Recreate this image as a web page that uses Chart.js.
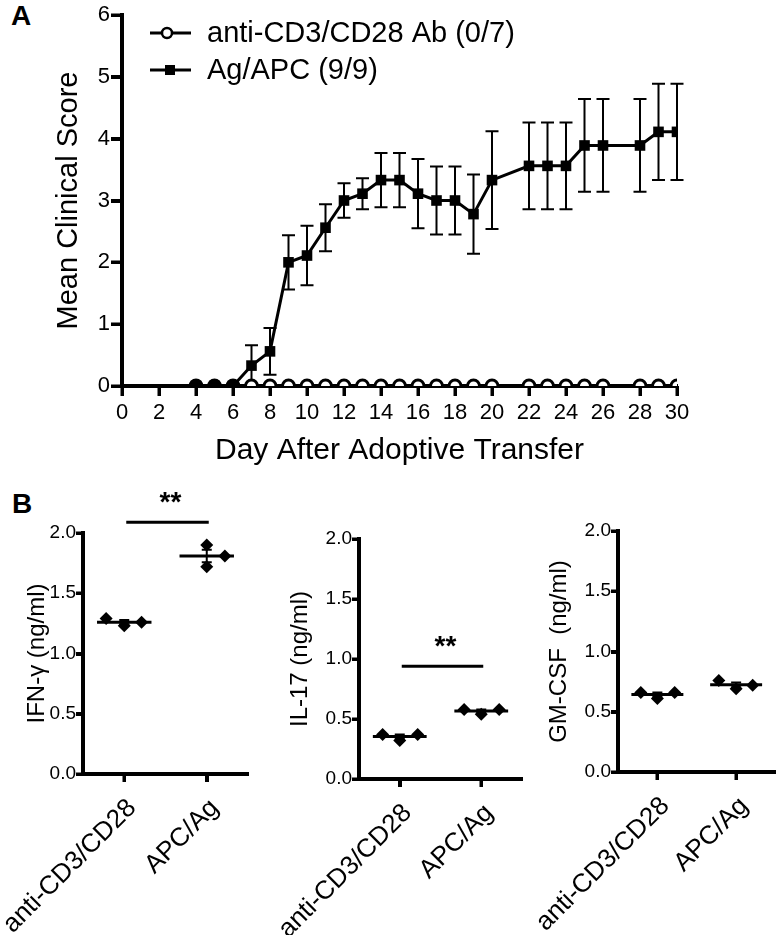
<!DOCTYPE html>
<html>
<head>
<meta charset="utf-8">
<script src="https://cdn.jsdelivr.net/npm/chart.js@4"></script>
<style>
  body { margin: 0; background: #fff; width: 782px; height: 935px; position: relative; overflow: hidden;
         font-family: "Liberation Sans", Arial, sans-serif; }
  .box { position: absolute; }
  .tag { position: absolute; font-weight: bold; font-size: 28px; line-height: 1; color: #000; }
  .tk { position: absolute; background: #000; pointer-events: none; z-index: 3; }
</style>
</head>
<body>
<div class="tag" style="left:11px;top:2px">A</div>
<div class="tag" style="left:12px;top:490px">B</div>
<div class="box" style="left:0;top:0;width:782px;height:470px"><canvas id="scoreChart"></canvas></div>
<div class="box" style="left:0;top:470px;width:260px;height:465px"><canvas id="ifnChart"></canvas></div>
<div class="box" style="left:270px;top:470px;width:260px;height:465px"><canvas id="il17Chart"></canvas></div>
<div class="box" style="left:530px;top:470px;width:252px;height:465px"><canvas id="gmChart"></canvas></div>
<script>
// Panel A: clinical score after adoptive transfer
const days = [4, 5, 6, 7, 8, 9, 10, 11, 12, 13, 14, 15, 16, 17, 18, 19, 20, 22, 23, 24, 25, 26, 28, 29, 30];
const agApcScore = [0, 0, 0, 0.33, 0.56, 2.00, 2.11, 2.56, 3.00, 3.11, 3.33, 3.33, 3.11, 3.00, 3.00, 2.78, 3.33,
  3.56, 3.56, 3.56, 3.89, 3.89, 3.89, 4.11, 4.11];
const agApcSem = [0, 0, 0, 0.33, 0.38, 0.44, 0.48, 0.38, 0.28, 0.25, 0.44, 0.44, 0.56, 0.55, 0.55, 0.64, 0.79,
  0.70, 0.70, 0.70, 0.75, 0.75, 0.75, 0.78, 0.78];
const antiCd3Score = [0, 0, 0, 0, 0, 0, 0, 0, 0, 0, 0, 0, 0, 0, 0, 0, 0, 0, 0, 0, 0, 0, 0, 0, 0];

// Panel B: cytokines (ng/ml), three mice per group
const groups = ["anti-CD3/CD28", "APC/Ag"];
const ifnAnti = [1.29, 1.23, 1.26];
const ifnApc = [1.90, 1.72, 1.81];
const il17Anti = [0.37, 0.32, 0.37];
const il17Apc = [0.58, 0.54, 0.58];
const gmAnti = [0.66, 0.61, 0.66];
const gmApc = [0.76, 0.69, 0.72];

const FONT = '"Liberation Sans", Arial, sans-serif';
Chart.defaults.font.family = FONT;
Chart.defaults.color = "#000";
Chart.defaults.animation = false;

// outward tick marks, placed from the chart's own scales
function tickSpots(chart) {
  const area = chart.chartArea;
  const xs = chart.scales.x, ys = chart.scales.y;
  return {
    area,
    xPix: xs.ticks.map(t => xs.getPixelForValue(t.value)),
    yPix: ys.ticks.map(t => ys.getPixelForValue(t.value))
  };
}

function makeTickMarks(xLen, yLen) {
  return {
    id: "tickMarks",
    afterDraw(chart) {
      const { area, xPix, yPix } = tickSpots(chart);
      const ctx = chart.ctx;
      ctx.save();
      ctx.fillStyle = "#000";
      xPix.forEach(px => ctx.fillRect(Math.round(px) - 1.5, area.bottom, 3, xLen));
      yPix.forEach(py => ctx.fillRect(area.left - yLen, Math.round(py) - 1.5, yLen, 3));
      ctx.restore();
    },
    afterRender(chart) {
      try {
        const host = chart.canvas.parentNode;
        host.querySelectorAll(".tk").forEach(el => el.remove());
        const { area, xPix, yPix } = tickSpots(chart);
        const add = (l, t, w, h) => {
          const el = document.createElement("div");
          el.className = "tk";
          el.style.left = l + "px"; el.style.top = t + "px";
          el.style.width = w + "px"; el.style.height = h + "px";
          host.appendChild(el);
        };
        xPix.forEach(px => add(Math.round(px) - 1.5, area.bottom, 3, xLen));
        yPix.forEach(py => add(area.left - yLen, Math.round(py) - 1.5, yLen, 3));
      } catch (e) { /* marks are also painted on the canvas */ }
    }
  };
}

const errorBars = {
  id: "errorBars",
  beforeDatasetsDraw(chart) {
    const { ctx, scales: { x, y } } = chart;
    ctx.save();
    ctx.strokeStyle = "#000";
    ctx.lineWidth = 2;
    days.forEach((d, i) => {
      const s = agApcSem[i];
      if (!s) return;
      const px = x.getPixelForValue(d);
      const top = y.getPixelForValue(agApcScore[i] + s);
      const bot = y.getPixelForValue(Math.max(agApcScore[i] - s, 0));
      ctx.beginPath();
      ctx.moveTo(px, top); ctx.lineTo(px, bot);
      ctx.moveTo(px - 6.5, top); ctx.lineTo(px + 6.5, top);
      ctx.moveTo(px - 6.5, bot); ctx.lineTo(px + 6.5, bot);
      ctx.stroke();
    });
    ctx.restore();
  }
};

const lineLegend = {
  id: "lineLegend",
  afterDraw(chart) {
    const ctx = chart.ctx;
    ctx.save();
    chart.data.datasets.forEach((ds, i) => {
      const y = 33 + i * 37;
      ctx.strokeStyle = "#000";
      ctx.lineWidth = 3;
      ctx.beginPath(); ctx.moveTo(150, y); ctx.lineTo(191, y); ctx.stroke();
      if (ds.pointStyle === "circle") {
        ctx.fillStyle = "#fff";
        ctx.lineWidth = 2.5;
        ctx.beginPath(); ctx.arc(167, y, 5, 0, Math.PI * 2); ctx.fill(); ctx.stroke();
      } else {
        ctx.fillStyle = "#000";
        ctx.fillRect(165, y - 5, 10, 10);
      }
      ctx.fillStyle = "#000";
      ctx.font = "29px " + FONT;
      ctx.textBaseline = "middle";
      ctx.fillText(ds.label, 207, y + 1);
    });
    ctx.restore();
  }
};

function axisStyle(tickLen) {
  return {
    grid: { drawOnChartArea: false, drawTicks: true, tickLength: tickLen, tickWidth: 3, tickColor: "#000" },
    border: { display: true, width: 4, color: "#000" }
  };
}

new Chart(document.getElementById("scoreChart"), {
  type: "line",
  data: {
    datasets: [
      {
        label: "anti-CD3/CD28 Ab (0/7)",
        data: days.map((d, i) => ({ x: d, y: antiCd3Score[i] })),
        borderColor: "#000", borderWidth: 3,
        pointStyle: "circle", pointRadius: 6, pointBorderWidth: 3,
        pointBackgroundColor: "#fff", pointBorderColor: "#000",
        order: 2
      },
      {
        label: "Ag/APC (9/9)",
        data: days.map((d, i) => ({ x: d, y: agApcScore[i] })),
        borderColor: "#000", borderWidth: 3,
        pointStyle: "rect", pointRadius: 7.5, pointBorderWidth: 0,
        pointBackgroundColor: "#000", pointBorderColor: "#000",
        order: 1
      }
    ]
  },
  options: {
    responsive: true,
    maintainAspectRatio: false,
    layout: { padding: { left: 0, top: 15, right: 105, bottom: 0 } },
    plugins: { legend: { display: false }, tooltip: { enabled: false } },
    scales: {
      x: {
        type: "linear", min: 0, max: 30,
        ...axisStyle(10),
        ticks: { stepSize: 2, font: { size: 22 }, color: "#000", padding: 4, maxRotation: 0 },
        title: { display: true, text: "Day After Adoptive Transfer", font: { size: 30 }, color: "#000",
                 padding: { top: 0, bottom: 1 } },
        afterFit(s) { s.height = 84; s.paddingLeft = 0; s.paddingRight = 0; }
      },
      y: {
        min: 0, max: 6,
        ...axisStyle(11),
        ticks: { stepSize: 1, font: { size: 22 }, color: "#000", padding: 1 },
        title: { display: true, text: "Mean Clinical Score", font: { size: 29 }, color: "#000",
                 padding: { top: 52, bottom: 0 } },
        afterFit(s) { s.width = 122; s.paddingTop = 0; s.paddingBottom = 0; }
      }
    }
  },
  plugins: [errorBars, makeTickMarks(10, 11), lineLegend]
});

function dotPanel(id, title, anti, apc, spread, sigLevel, box) {
  const stats = [anti, apc].map(v => {
    const m = v.reduce((a, b) => a + b, 0) / v.length;
    const sd = Math.sqrt(v.reduce((a, b) => a + (b - m) ** 2, 0) / (v.length - 1));
    return { m, sem: sd / Math.sqrt(v.length) };
  });

  const meanLines = {
    id: "meanLines",
    afterDatasetsDraw(chart) {
      const { ctx, scales: { x, y } } = chart;
      ctx.save();
      ctx.strokeStyle = "#000";
      stats.forEach((s, g) => {
        const ym = y.getPixelForValue(s.m);
        ctx.lineWidth = 3;
        ctx.beginPath();
        ctx.moveTo(x.getPixelForValue(g - 0.33), ym);
        ctx.lineTo(x.getPixelForValue(g + 0.33), ym);
        ctx.stroke();
        const xc = x.getPixelForValue(g);
        const yt = y.getPixelForValue(s.m + s.sem);
        const yb = y.getPixelForValue(s.m - s.sem);
        ctx.lineWidth = 2;
        ctx.beginPath();
        ctx.moveTo(xc, yt); ctx.lineTo(xc, yb);
        ctx.moveTo(xc - 5, yt); ctx.lineTo(xc + 5, yt);
        ctx.moveTo(xc - 5, yb); ctx.lineTo(xc + 5, yb);
        ctx.stroke();
      });
      if (sigLevel != null) {
        const ys = y.getPixelForValue(sigLevel);
        const x0 = x.getPixelForValue(0) + 2;
        const x1 = x.getPixelForValue(1) + 2;
        ctx.lineWidth = 3;
        ctx.beginPath(); ctx.moveTo(x0, ys); ctx.lineTo(x1, ys); ctx.stroke();
        ctx.fillStyle = "#000";
        ctx.font = "bold 28px " + FONT;
        ctx.textAlign = "center";
        ctx.textBaseline = "middle";
        ctx.fillText("**", (x0 + x1) / 2 + 3, ys - 19);
      }
      ctx.restore();
    }
  };

  const pts = (vals, g) => vals.map((v, i) => ({ x: g + spread[g][i], y: v }));
  const dot = { backgroundColor: "#000", borderColor: "#000", pointStyle: "rectRot", pointRadius: 6.5, pointBorderWidth: 0 };

  new Chart(document.getElementById(id), {
    type: "scatter",
    data: { datasets: [{ data: pts(anti, 0), ...dot }, { data: pts(apc, 1), ...dot }] },
    options: {
      responsive: true,
      maintainAspectRatio: false,
      layout: { padding: { left: 0, top: box.top, right: box.right, bottom: 0 } },
      plugins: { legend: { display: false }, tooltip: { enabled: false } },
      scales: {
        x: {
          type: "linear", min: -0.5, max: 1.5,
          ...axisStyle(8),
          afterBuildTicks(s) { s.ticks = [{ value: 0 }, { value: 1 }]; },
          ticks: { autoSkip: false, minRotation: 45, maxRotation: 45, font: { size: 26 }, color: "#000",
                   padding: 11, labelOffset: 8, callback: v => groups[v] },
          afterFit(s) { s.height = box.xh; s.paddingLeft = 0; s.paddingRight = 0; }
        },
        y: {
          min: 0, max: 2,
          ...axisStyle(7),
          ticks: { stepSize: 0.5, font: { size: 19 }, color: "#000", padding: 0, callback: v => v.toFixed(1) },
          title: { display: true, text: title, font: { size: 24 }, color: "#000",
                   padding: { top: box.titlePad, bottom: 0 } },
          afterFit(s) { s.width = box.yw; s.paddingTop = 0; s.paddingBottom = 0; }
        }
      }
    },
    plugins: [meanLines, makeTickMarks(8, 7)]
  });
}

dotPanel("ifnChart", "IFN-\u03b3 (ng/ml)", ifnAnti, ifnApc, [[-0.22, 0, 0.21], [0, 0, 0.22]], 2.09,
  { yw: 83, top: 63, right: 12, xh: 161, titlePad: 23 });
dotPanel("il17Chart", "IL-17 (ng/ml)", il17Anti, il17Apc, [[-0.21, 0, 0.22], [-0.21, 0, 0.22]], 0.94,
  { yw: 89, top: 69, right: 8, xh: 156, titlePad: 16 });
dotPanel("gmChart", "GM-CSF  (ng/ml)", gmAnti, gmApc, [[-0.21, 0, 0.22], [-0.22, 0, 0.21]], null,
  { yw: 88, top: 61, right: 2, xh: 163, titlePad: 15 });
</script>
</body>
</html>
